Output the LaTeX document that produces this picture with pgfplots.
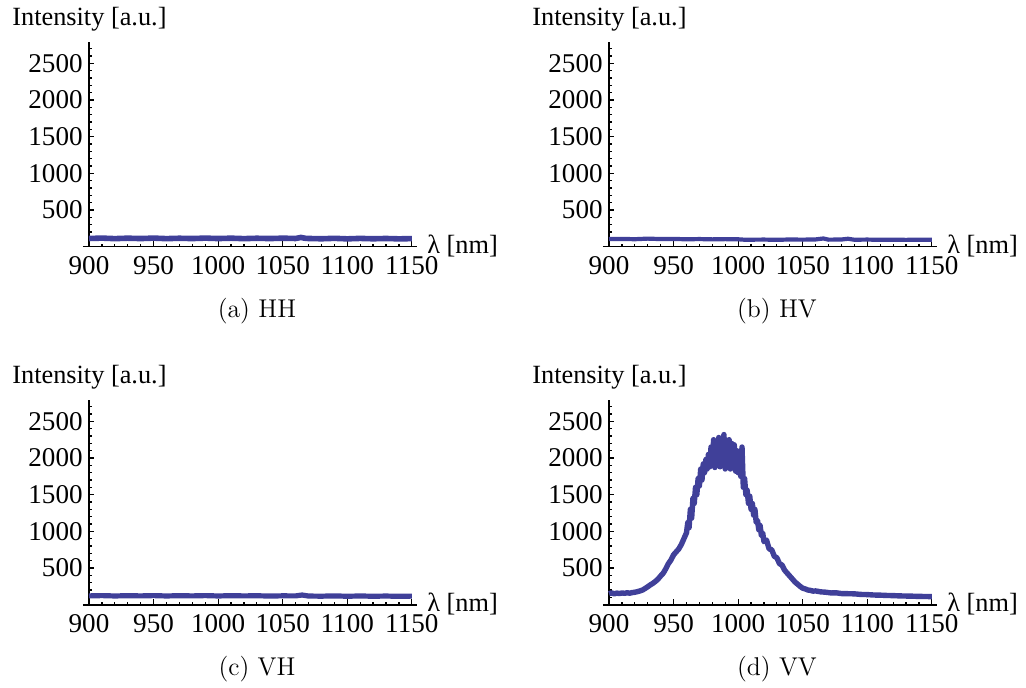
\documentclass[border=0pt]{standalone}
\usepackage{fontspec}
\newfontfamily\timesf{Liberation Serif}
\usepackage{pgfplots}
\usepackage{pgfplotstable}
\pgfplotsset{compat=1.18}
\definecolor{mblue}{rgb}{0.25,0.25,0.6}
\newcommand{\tickfont}{\timesf\fontsize{13.6}{15}\selectfont}

\pgfplotstableread{
x y
900 112
910 117
920 110
930 116
940 111
950 117
960 110
970 115
980 111
990 117
1000 111
1010 116
1020 110
1030 115
1040 111
1050 116
1060 112
1064 126
1068 113
1080 108
1090 114
1100 107
1110 113
1120 108
1130 112
1140 107
1150 110
}\dataHH

\pgfplotstableread{
x y
900 104
910 106
920 102
930 110
940 104
950 106
960 101
970 104
980 100
990 103
1000 101
1005 95
1020 97
1030 94
1040 98
1050 96
1060 99
1066 112
1070 96
1080 98
1085 108
1090 95
1100 97
1110 94
1120 96
1130 93
1140 96
1150 95
}\dataHV

\pgfplotstableread{
x y
900 120
910 124
920 119
930 123
940 120
950 124
960 119
970 123
980 120
990 124
1000 119
1010 123
1020 120
1030 122
1040 118
1050 121
1060 120
1065 132
1070 118
1080 116
1090 120
1100 115
1110 119
1120 115
1130 118
1140 114
1150 117
}\dataVH

\pgfplotstableread{
x y
900 150
902 162
904 148
906 158
908 152
910 160
912 155
914 163
916 157
918 165
920 170
922 178
924 188
926 200
928 222
930 245
932 270
934 292
936 318
938 350
940 392
942 430
944 490
946 560
948 610
950 680
952 720
954 760
956 820
958 900
960 980
961 1120
962 1050
963 1300
964 1180
965 1450
966 1380
967 1600
968 1500
969 1720
970 1620
971 1850
972 1700
973 1920
974 1800
975 1980
976 1850
977 2050
978 1880
979 2150
980 1900
981 2250
982 1870
983 2100
984 1950
985 2280
986 1880
987 2200
988 1900
989 2320
990 1850
991 2150
992 1920
993 2250
994 1850
995 2200
996 1900
997 2180
998 1820
999 2100
1000 1800
1001 2050
1002 1750
1003 2150
1004 1600
1005 1720
1006 1500
1007 1560
1008 1380
1009 1480
1010 1300
1011 1380
1012 1220
1013 1300
1014 1120
1015 1150
1016 1020
1017 1080
1018 940
1019 980
1020 860
1022 880
1024 760
1026 750
1028 660
1030 640
1032 560
1034 540
1036 470
1038 430
1040 390
1042 350
1044 310
1046 280
1048 250
1050 225
1052 215
1054 200
1056 195
1058 185
1060 188
1064 175
1068 170
1072 160
1076 162
1080 152
1085 150
1090 148
1095 140
1100 138
1105 132
1110 130
1115 126
1120 124
1125 120
1130 118
1135 116
1140 113
1145 112
1150 110
}\dataVV

\pgfplotsset{
  mystyle/.style={
    scale only axis, anchor=south west,
    width=164bp, height=102.5bp,
    xmin=900, xmax=1154, ymin=0, ymax=2795,
    axis x line=bottom, axis y line=left,
    axis line style={-, line width=0.8bp, black},
    tick align=inside,
    major tick length=2.6bp, minor tick length=1.5bp,
    every tick/.style={black, line width=0.6bp},
    xtick={900,950,...,1150},
    minor xtick={900,910,...,1150},
    ytick={500,1000,...,2500},
    minor ytick={100,200,...,2700},
    /pgf/number format/assume math mode=true,
    /pgf/number format/1000 sep={},
    xticklabel={\tickfont\pgfmathprintnumber[assume math mode=true,1000 sep={}]{\tick}},
    yticklabel={\tickfont\pgfmathprintnumber[assume math mode=true,1000 sep={}]{\tick}},
    yticklabel style={inner xsep=3bp},
    xticklabel style={inner ysep=4.5bp},
    clip=false,
  }
}

\newcommand{\panel}[4]{%
  \begin{axis}[mystyle, at={(#1,#2)}]
    \draw[line width=0.8bp] (axis cs:895.3,0) -- (axis cs:900,0);
    \addplot[mblue, line width=#4, line join=round] table {#3};
  \end{axis}
}

\begin{document}
\begin{tikzpicture}
\panel{44.5bp}{220.65bp}{\dataHH}{2.8bp}
\panel{304.5bp}{220.65bp}{\dataHV}{2.1bp}
\panel{44.5bp}{41.65bp}{\dataVH}{2.6bp}
\panel{304.5bp}{41.65bp}{\dataVV}{2.7bp}

\begin{scope}[every node/.style={font=\timesf\fontsize{13.2}{15}\selectfont, inner sep=0pt}]
\node[anchor=base west] at (6bp,331bp) {Intensity [a.u.]};
\node[anchor=base west] at (266bp,331bp) {Intensity [a.u.]};
\node[anchor=base west] at (6bp,152bp) {Intensity [a.u.]};
\node[anchor=base west] at (266bp,152bp) {Intensity [a.u.]};
\node[anchor=west] at (213.5bp,221bp) {λ [nm]};
\node[anchor=west] at (473.5bp,221bp) {λ [nm]};
\node[anchor=west] at (213.5bp,42bp) {λ [nm]};
\node[anchor=west] at (473.5bp,42bp) {λ [nm]};
\end{scope}

\begin{scope}[every node/.style={font=\fontsize{12.9}{15}\selectfont, inner sep=0pt}]
\node at (128.5bp,188.5bp) {(a) HH};
\node at (388.5bp,188.5bp) {(b) HV};
\node at (128.5bp,9.5bp) {(c) VH};
\node at (388.5bp,9.5bp) {(d) VV};
\end{scope}

\pgfresetboundingbox
\path (0,0) rectangle (513bp,344bp);
\end{tikzpicture}
\end{document}
